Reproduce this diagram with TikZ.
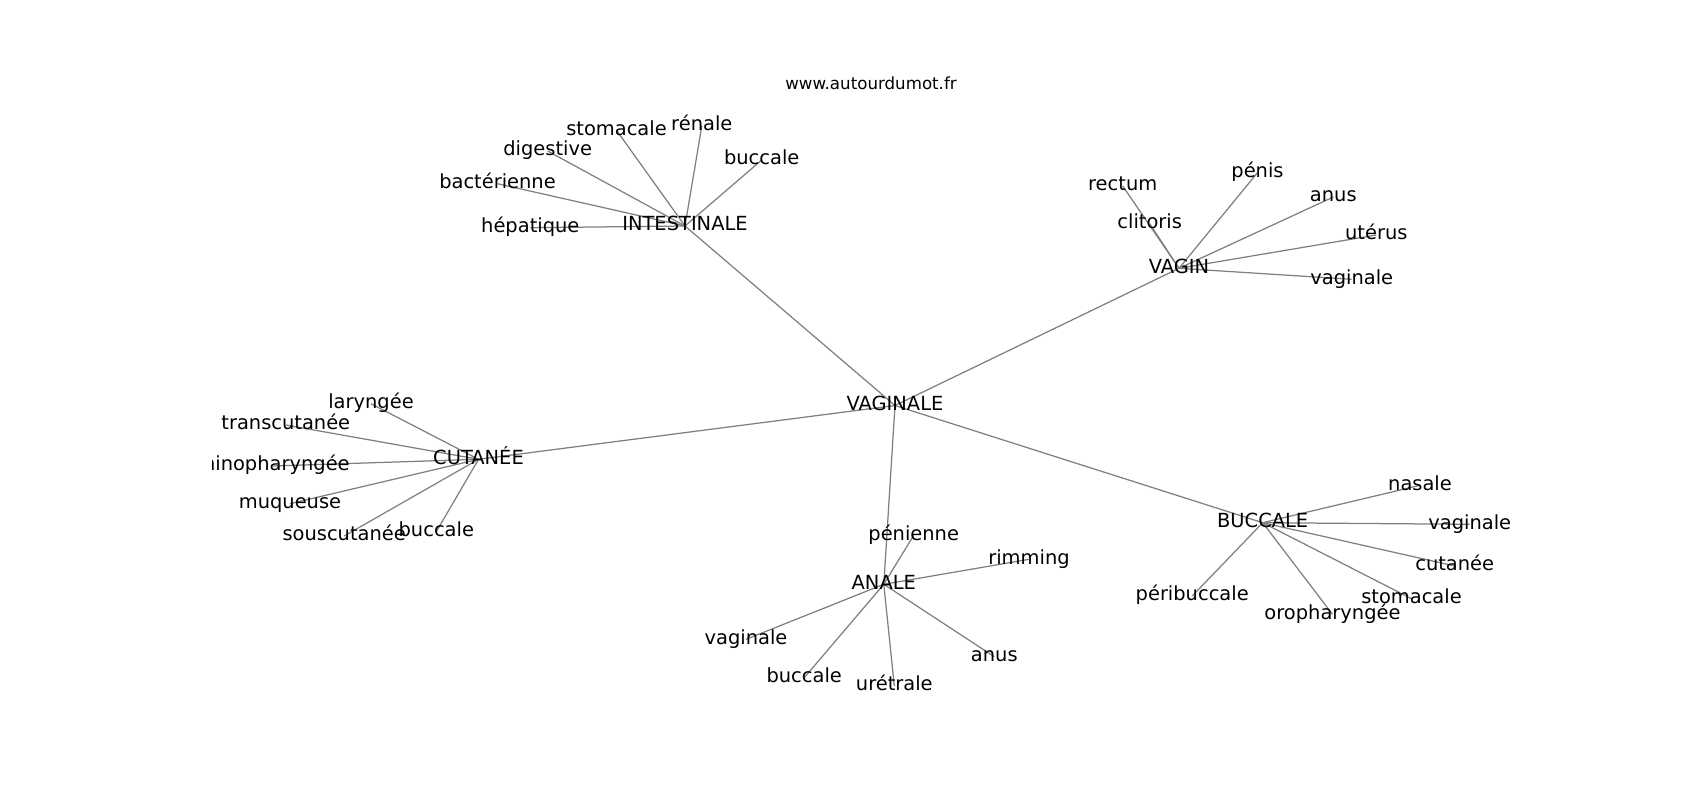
\documentclass[tikz,border=0pt]{standalone}
\usepackage{fontspec}
\setmainfont{DejaVu Sans}
\usetikzlibrary{calc}
\pgfdeclarelayer{edges}
\pgfsetlayers{edges,main}
\tikzset{
  hub/.style={inner sep=0pt,text height=0.85em,text depth=0.15em,font=\fontsize{14}{17}\selectfont},
  leaf/.style={hub},
  site/.style={inner sep=0pt,anchor=base,font=\fontsize{12}{14}\selectfont},
  link/.style={draw=gray,line width=0.9pt}
}
\begin{document}
\begin{tikzpicture}[x=0.72pt,y=-0.72pt]
      \useasboundingbox (0,-2.5) rectangle (1700,797.5);
      \node[site] (title) at (871,86.7) {www.autourdumot.fr};

      \begin{scope}
      \clip (212.5,96) rectangle (1530,712);
      \node[hub] (vaginale) at (895,403) {VAGINALE};
      \node[hub] (intestinale) at (685,223.5) {INTESTINALE};
      \node[hub] (vagin) at (1179,265.8) {VAGIN};
      \node[hub] (cutanee) at (478.5,456.8) {CUTANÉE};
      \node[hub] (anale) at (883.8,581.8) {ANALE};
      \node[hub] (buccale) at (1262.7,520.2) {BUCCALE};

      \node[leaf] (int 1) at (530.3,225.2) {hépatique};
      \node[leaf] (int 2) at (497.5,181.2) {bactérienne};
      \node[leaf] (int 3) at (547.7,148.5) {digestive};
      \node[leaf] (int 4) at (616.5,127.8) {stomacale};
      \node[leaf] (int 5) at (701.8,123.5) {rénale};
      \node[leaf] (int 6) at (761.7,157.5) {buccale};

      \node[leaf] (vag 1) at (1122.7,183.5) {rectum};
      \node[leaf] (vag 2) at (1149.7,221.2) {clitoris};
      \node[leaf] (vag 3) at (1257.5,170.2) {pénis};
      \node[leaf] (vag 4) at (1333.3,194.5) {anus};
      \node[leaf] (vag 5) at (1376.3,232.5) {utérus};
      \node[leaf] (vag 6) at (1351.7,276.8) {vaginale};

      \node[leaf] (cut 1) at (371,401.2) {laryngée};
      \node[leaf] (cut 2) at (285.8,422.5) {transcutanée};
      \node[leaf] (cut 3) at (272.5,463.5) {rhinopharyngée};
      \node[leaf] (cut 4) at (290,501.2) {muqueuse};
      \node[leaf] (cut 5) at (344.2,533.5) {souscutanée};
      \node[leaf] (cut 6) at (436.3,529.2) {buccale};

      \node[leaf] (ana 1) at (913.7,532.8) {pénienne};
      \node[leaf] (ana 2) at (1029,556.8) {rimming};
      \node[leaf] (ana 3) at (746,636.8) {vaginale};
      \node[leaf] (ana 4) at (804.2,675.2) {buccale};
      \node[leaf] (ana 5) at (894.3,683.5) {urétrale};
      \node[leaf] (ana 6) at (994.3,654.2) {anus};

      \node[leaf] (buc 1) at (1420,482.8) {nasale};
      \node[leaf] (buc 2) at (1469.7,521.8) {vaginale};
      \node[leaf] (buc 3) at (1454.7,563.5) {cutanée};
      \node[leaf] (buc 4) at (1192.2,593.5) {péribuccale};
      \node[leaf] (buc 5) at (1411.5,596.2) {stomacale};
      \node[leaf] (buc 6) at (1332.5,611.8) {oropharyngée};
      \end{scope}

      \begin{pgfonlayer}{edges}
      \draw[link] (vaginale.center) -- (intestinale.center);
      \draw[link] (vaginale.center) -- (vagin.center);
      \draw[link] (vaginale.center) -- (cutanee.center);
      \draw[link] (vaginale.center) -- (anale.center);
      \draw[link] (vaginale.center) -- (buccale.center);

      \draw[link] (intestinale.center) -- (int 1.center);
      \draw[link] (intestinale.center) -- (int 2.center);
      \draw[link] (intestinale.center) -- (int 3.center);
      \draw[link] (intestinale.center) -- (int 4.center);
      \draw[link] (intestinale.center) -- (int 5.center);
      \draw[link] (intestinale.center) -- (int 6.center);

      \draw[link] (vagin.center) -- (vag 1.center);
      \draw[link] (vagin.center) -- (vag 2.center);
      \draw[link] (vagin.center) -- (vag 3.center);
      \draw[link] (vagin.center) -- (vag 4.center);
      \draw[link] (vagin.center) -- (vag 5.center);
      \draw[link] (vagin.center) -- (vag 6.center);

      \draw[link] (cutanee.center) -- (cut 1.center);
      \draw[link] (cutanee.center) -- (cut 2.center);
      \draw[link] (cutanee.center) -- (cut 3.center);
      \draw[link] (cutanee.center) -- (cut 4.center);
      \draw[link] (cutanee.center) -- (cut 5.center);
      \draw[link] (cutanee.center) -- (cut 6.center);

      \draw[link] (anale.center) -- (ana 1.center);
      \draw[link] (anale.center) -- (ana 2.center);
      \draw[link] (anale.center) -- (ana 3.center);
      \draw[link] (anale.center) -- (ana 4.center);
      \draw[link] (anale.center) -- (ana 5.center);
      \draw[link] (anale.center) -- (ana 6.center);

      \draw[link] (buccale.center) -- (buc 1.center);
      \draw[link] (buccale.center) -- (buc 2.center);
      \draw[link] (buccale.center) -- (buc 3.center);
      \draw[link] (buccale.center) -- (buc 4.center);
      \draw[link] (buccale.center) -- (buc 5.center);
      \draw[link] (buccale.center) -- (buc 6.center);
      \end{pgfonlayer}
    \end{tikzpicture}
\end{document}
